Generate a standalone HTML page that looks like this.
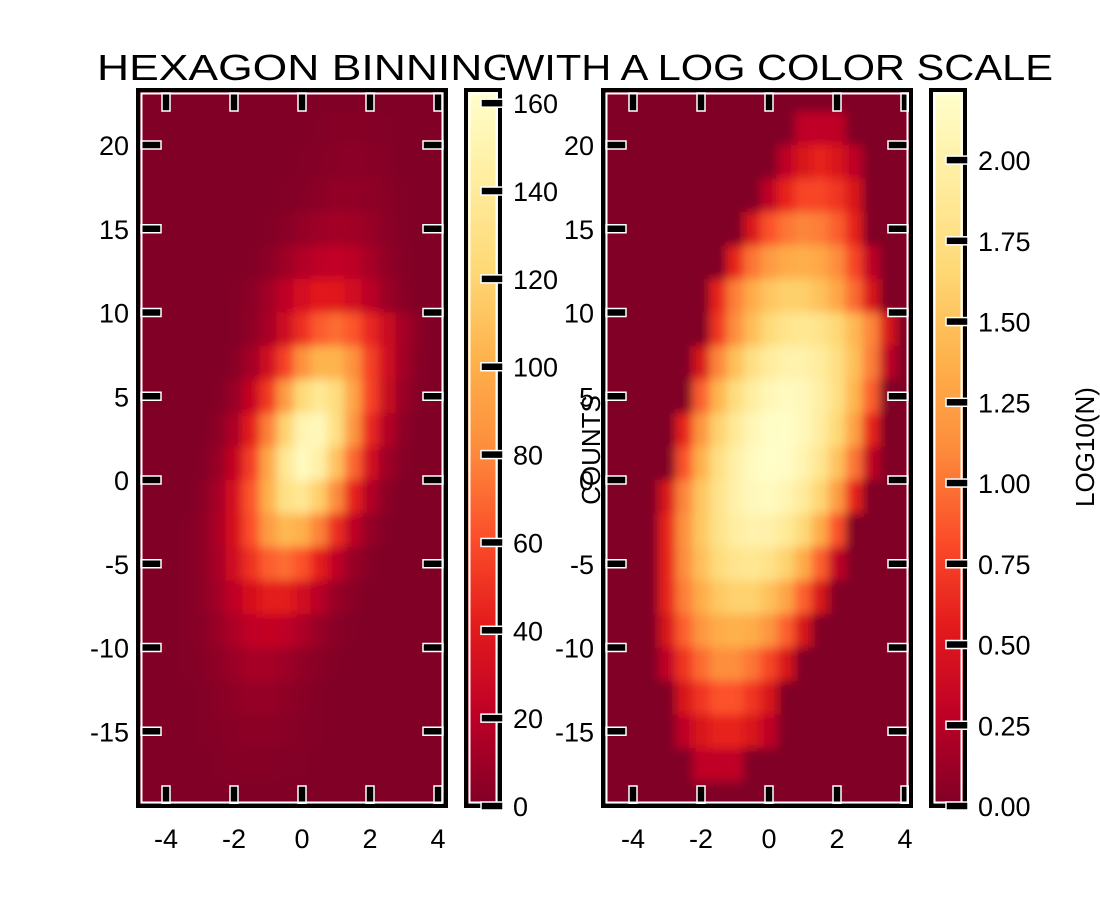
<!DOCTYPE html>
<html><head><meta charset="utf-8">
<style>
html,body{margin:0;padding:0;background:#fff;}
svg{display:block;font-family:"Liberation Sans","DejaVu Sans",sans-serif;}
</style></head>
<body>
<svg id="chart" width="1100" height="900" viewBox="0 0 1100 900" xmlns="http://www.w3.org/2000/svg">
<defs>
  <linearGradient id="cmap" x1="0" y1="1" x2="0" y2="0">
    <stop offset="0" stop-color="#800026"/><stop offset="0.125" stop-color="#bd0026"/>
    <stop offset="0.25" stop-color="#e31a1c"/><stop offset="0.375" stop-color="#fc4e2a"/>
    <stop offset="0.5" stop-color="#fd8d3c"/><stop offset="0.625" stop-color="#feb24c"/>
    <stop offset="0.75" stop-color="#fed976"/><stop offset="0.875" stop-color="#ffeda0"/>
    <stop offset="1" stop-color="#ffffcc"/>
  </linearGradient>
  <clipPath id="clipL"><rect x="138" y="90" width="308" height="716"/></clipPath>
  <clipPath id="clipR"><rect x="603" y="90" width="308" height="716"/></clipPath>
  <filter id="soft" x="-5%" y="-5%" width="110%" height="110%"><feGaussianBlur stdDeviation="5"/></filter>
</defs>
<g id="root"></g>
</svg>
<script>
const xCenters = [-4,-3.5,-3,-2.5,-2,-1.5,-1,-0.5,0,0.5,1,1.5,2,2.5,3,3.5];
const yCenters = [21,19,17,15,13,11,9,7,5,3,1,-1,-3,-5,-7,-9,-11,-13,-15,-17];
const counts = [
 [0,0,0,0,0,0,0,0,0,1,2,2,2,1,0,0],
 [0,0,0,0,0,0,0,0,1,2,3,4,3,2,0,0],
 [0,0,0,0,0,0,0,1,2,4,6,6,5,3,1,0],
 [0,0,0,0,0,0,1,3,7,10,12,11,8,4,1,0],
 [0,0,0,0,0,1,4,10,16,21,23,20,13,6,2,0],
 [0,0,0,0,1,4,11,22,33,40,39,31,20,9,3,0],
 [0,0,0,0,1,5,13,29,48,65,71,63,46,27,12,3],
 [0,0,0,0,3,12,30,56,84,103,103,84,56,30,11,2],
 [0,0,0,1,8,25,52,89,123,138,126,94,57,26,8,1],
 [0,0,0,4,15,41,77,119,151,155,129,87,46,18,4,0],
 [0,0,1,7,24,55,96,137,157,146,111,69,32,10,2,0],
 [0,0,3,12,33,63,101,130,137,117,81,44,17,4,0,0],
 [0,1,4,14,34,61,89,105,101,78,48,22,7,1,0,0],
 [0,1,4,13,30,50,66,71,62,42,22,8,2,0,0,0],
 [0,1,4,11,22,34,41,41,31,19,8,3,0,0,0,0],
 [0,1,3,8,15,22,24,22,15,8,3,1,0,0,0,0],
 [0,1,2,5,9,13,13,10,6,3,1,0,0,0,0,0],
 [0,0,1,3,5,7,7,5,3,1,0,0,0,0,0,0],
 [0,0,1,2,3,4,4,3,2,1,0,0,0,0,0,0],
 [0,0,0,1,2,2,2,1,1,0,0,0,0,0,0,0]
];
const xTicks = [-4,-2,0,2,4];
const yTicks = [20,15,10,5,0,-5,-10,-15];
const cbLinTicks = [0,20,40,60,80,100,120,140,160];
const cbLogTicks = ["0.00","0.25","0.50","0.75","1.00","1.25","1.50","1.75","2.00"];
const vmaxLin = 163, vmaxLog = 2.217;

const NS = "http://www.w3.org/2000/svg";
const root = document.getElementById('root');
function mk(tag, attrs, parent){const e=document.createElementNS(NS,tag);for(const k in attrs)e.setAttribute(k,attrs[k]);(parent||root).appendChild(e);return e;}

const stops=[[0,[128,0,38]],[.125,[189,0,38]],[.25,[227,26,28]],[.375,[252,78,42]],[.5,[253,141,60]],[.625,[254,178,76]],[.75,[254,217,118]],[.875,[255,237,160]],[1,[255,255,204]]];
function cmap(t){t=Math.max(0,Math.min(1,t));for(let i=1;i<stops.length;i++){if(t<=stops[i][0]){const a=stops[i-1],b=stops[i];const f=(t-a[0])/(b[0]-a[0]);const c=a[1].map((v,j)=>Math.round(v+(b[1][j]-v)*f));return `rgb(${c})`;}}return 'rgb(255,255,204)';}

const Y0=480, YS=16.75, CW=34;
function ys(v){return Y0 - v*YS;}
function mkPanel(x0, zeroX, useLog, clip, name){
  const xs = v => zeroX + v*CW;
  const gC = mk('g',{'clip-path':`url(#${clip})`});
  
  
  const g = mk('g',{filter:'url(#soft)'},gC);
  mk('rect',{x:x0-30,y:60,width:368,height:776,fill:'#800026'},g);
  yCenters.forEach((yv,r)=>{xCenters.forEach((xv,c)=>{
    const n=counts[r][c]; if(n<=0) return;
    const t = useLog ? Math.log10(n)/vmaxLog : n/vmaxLin;
    const cell = mk('rect',{x:xs(xv-0.25),y:ys(yv+1),width:CW*0.5,height:YS*2,fill:cmap(t)},g);
    
    
  });});
  xTicks.forEach(v=>{const x=xs(v);
    mk('rect',{x:x-4,y:93,width:8,height:18,fill:'#000',stroke:'#fff','stroke-width':1.5});
    mk('rect',{x:x-4,y:786,width:8,height:18,fill:'#000',stroke:'#fff','stroke-width':1.5});
    const t=mk('text',{x:x,y:848,'font-size':27,'text-anchor':'middle',fill:'#000'});t.textContent=v<0?'-'+(-v):String(v);
    
    
  });
  yTicks.forEach(v=>{const y=ys(v);
    mk('rect',{x:x0+3,y:y-4,width:20,height:8,fill:'#000',stroke:'#fff','stroke-width':1.5});
    mk('rect',{x:x0+285,y:y-4,width:20,height:8,fill:'#000',stroke:'#fff','stroke-width':1.5});
    const t=mk('text',{x:x0-9,y:y+10,'font-size':27,'text-anchor':'end',fill:'#000'});t.textContent=v<0?'-'+(-v):String(v);
    
    
  });
  const fr=mk('rect',{x:x0,y:90,width:308,height:716,fill:'none',stroke:'#000','stroke-width':4});
  
  
  mk('rect',{x:x0+3.5,y:93.5,width:301,height:709,fill:'none',stroke:'#fff','stroke-width':2});
}
mkPanel(138,302,false,'clipL','linear-panel');
const cl=mk('text',{x:0,y:0,'font-size':26,'text-anchor':'middle',transform:'translate(600,450) rotate(-90)'});cl.textContent='COUNTS';


mkPanel(603,769,true,'clipR','log-panel');

function mkCbar(x0, labels, pos, name){
  const bar=mk('rect',{x:x0,y:90,width:34,height:716,fill:'url(#cmap)',stroke:'#000','stroke-width':4});
  
  
  mk('rect',{x:x0+3.5,y:93.5,width:27,height:709,fill:'none',stroke:'#fff','stroke-width':2});
  labels.forEach((lab,i)=>{const y=pos(i);
    mk('rect',{x:x0+15,y:y-4,width:22,height:8,fill:'#000',stroke:'#fff','stroke-width':1.5});
    const t=mk('text',{x:x0+47,y:y+10,'font-size':27,fill:'#000'});t.textContent=lab;
    
    
  });
}
mkCbar(466, cbLinTicks.map(String), i=>806-cbLinTicks[i]/vmaxLin*716, 'colorbar-linear');
mkCbar(931, cbLogTicks, i=>806-parseFloat(cbLogTicks[i])/vmaxLog*716, 'colorbar-log');

const ll=mk('text',{x:0,y:0,'font-size':26,'text-anchor':'middle',transform:'translate(1094,447) rotate(-90)'});ll.textContent='LOG10(N)';



const t1=mk('text',{x:97,y:80,'font-size':36,textLength:420,lengthAdjust:'spacingAndGlyphs'});t1.textContent='HEXAGON BINNING';


mk('rect',{x:505,y:40,width:14,height:45,fill:'#fff'});
const t2=mk('text',{x:505,y:80,'font-size':36,textLength:548,lengthAdjust:'spacingAndGlyphs'});t2.textContent='WITH A LOG COLOR SCALE';


</script>
</body></html>
